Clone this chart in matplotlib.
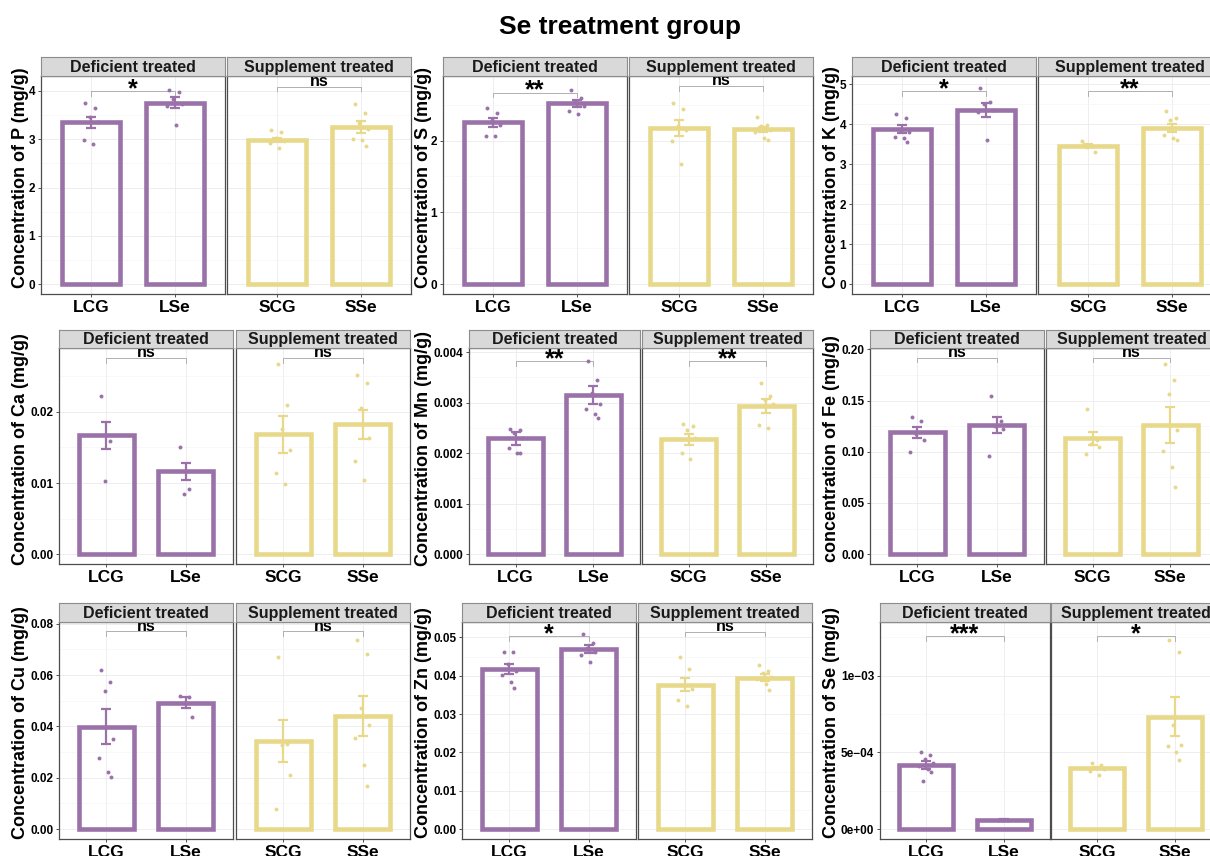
import matplotlib
matplotlib.use("Agg")
import matplotlib.pyplot as plt
import numpy as np

plt.rcParams['font.family'] = ['Liberation Sans', 'DejaVu Sans']

# ---------------- data ----------------
title = "Se treatment group"
facet_titles = ["Deficient treated", "Supplement treated"]
groups_def = ["LCG", "LSe"]
groups_sup = ["SCG", "SSe"]

ylabels = ["Concentration of P (mg/g)", "Concentration of S (mg/g)", "Concentration of K (mg/g)",
           "Concentration of Ca (mg/g)", "Concentration of Mn (mg/g)", "concentration of Fe (mg/g)",
           "Concentration of Cu (mg/g)", "Concentration of Zn (mg/g)", "Concentration of Se (mg/g)"]

# order of groups in each element: LCG, LSe, SCG, SSe
P_mean = [3.35, 3.76, 2.99, 3.25]
P_se = [0.115, 0.115, 0.04, 0.12]
P_pts = [[3.75, 3.64, 3.46, 3.35, 2.99, 2.91], [4.03, 3.97, 3.84, 3.72, 3.68, 3.29],
         [3.20, 3.14, 3.02, 2.97, 2.92, 2.82], [3.72, 3.55, 3.33, 3.22, 3.00, 2.98, 2.86]]
P_sig = ["*", "ns"]
P_sig_y = [3.99, 4.09]

S_mean = [2.255, 2.52, 2.18, 2.16]
S_se = [0.06, 0.05, 0.11, 0.035]
S_pts = [[2.46, 2.39, 2.28, 2.22, 2.07, 2.07], [2.70, 2.60, 2.55, 2.48, 2.41, 2.37],
         [2.52, 2.44, 2.20, 2.15, 1.99, 1.67], [2.33, 2.22, 2.20, 2.15, 2.12, 2.03, 2.01]]
S_sig = ["**", "ns"]
S_sig_y = [2.67, 2.76]

K_mean = [3.88, 4.37, 3.46, 3.91]
K_se = [0.10, 0.175, 0.035, 0.105]
K_pts = [[4.26, 4.16, 3.85, 3.80, 3.69, 3.65, 3.55], [4.90, 4.55, 4.50, 4.35, 4.30, 3.62],
         [3.58, 3.45, 3.42, 3.31], [4.34, 4.16, 4.12, 3.92, 3.73, 3.65, 3.60]]
K_sig = ["*", "**"]
K_sig_y = [4.83, 4.83]

Ca_mean = [0.0167, 0.01167, 0.01688, 0.01823]
Ca_se = [0.00193, 0.00121, 0.0026, 0.00205]
Ca_pts = [[0.0222, 0.0159, 0.0103], [0.0150, 0.0092, 0.0085],
          [0.0267, 0.0210, 0.0176, 0.0146, 0.0114, 0.0098], [0.0252, 0.0240, 0.0205, 0.0164, 0.0131, 0.0104]]
Ca_sig = ["ns", "ns"]
Ca_sig_y = [0.02758, 0.02758]

Mn_mean = [0.00229, 0.003145, 0.00227, 0.00293]
Mn_se = [0.00012, 0.00018, 0.00011, 0.00014]
Mn_pts = [[0.00248, 0.00245, 0.00240, 0.00230, 0.00210, 0.00201, 0.00200],
          [0.00382, 0.00345, 0.00318, 0.00297, 0.00288, 0.00277, 0.00270],
          [0.00257, 0.00253, 0.00245, 0.00230, 0.00200, 0.00189],
          [0.00339, 0.00313, 0.00305, 0.00297, 0.00255, 0.00250]]
Mn_sig = ["**", "**"]
Mn_sig_y = [0.00382, 0.00382]

Fe_mean = [0.1191, 0.1262, 0.1130, 0.1262]
Fe_se = [0.0054, 0.0076, 0.006, 0.0172]
Fe_pts = [[0.1337, 0.1305, 0.117, 0.111, 0.0994], [0.1544, 0.130, 0.125, 0.122, 0.0958],
          [0.1417, 0.111, 0.108, 0.105, 0.0977], [0.186, 0.1696, 0.156, 0.121, 0.1003, 0.0848, 0.0657]]
Fe_sig = ["ns", "ns"]
Fe_sig_y = [0.192, 0.192]

Cu_mean = [0.0399, 0.0492, 0.0343, 0.0441]
Cu_se = [0.0068, 0.0021, 0.0082, 0.0079]
Cu_pts = [[0.0619, 0.0573, 0.0539, 0.0352, 0.0276, 0.0222, 0.0205], [0.0520, 0.0515, 0.0490, 0.0436],
          [0.0669, 0.0332, 0.0328, 0.0210, 0.0079], [0.0738, 0.0683, 0.0470, 0.0407, 0.0354, 0.0251, 0.0169]]
Cu_sig = ["ns", "ns"]
Cu_sig_y = [0.077, 0.077]

Zn_mean = [0.04174, 0.04696, 0.0377, 0.0395]
Zn_se = [0.0013, 0.00095, 0.00165, 0.00085]
Zn_pts = [[0.0463, 0.0463, 0.0430, 0.0412, 0.0402, 0.0383, 0.0367],
          [0.0509, 0.0485, 0.0473, 0.0462, 0.0455, 0.0436],
          [0.0448, 0.0418, 0.0376, 0.0365, 0.0337, 0.0322],
          [0.0427, 0.0411, 0.0408, 0.0397, 0.0392, 0.0379, 0.0363]]
Zn_sig = ["*", "ns"]
Zn_sig_y = [0.0503, 0.0515]

Se_mean = [4.17e-4, 6.1e-5, 3.96e-4, 7.33e-4]
Se_se = [2.6e-5, 2e-6, 7e-6, 1.25e-4]
Se_pts = [[5.0e-4, 4.8e-4, 4.6e-4, 4.3e-4, 4.1e-4, 3.9e-4, 3.7e-4, 3.15e-4], [6.2e-5, 6.0e-5, 5.9e-5],
          [4.3e-4, 4.15e-4, 4.0e-4, 3.9e-4, 3.8e-4, 3.5e-4],
          [1.235e-3, 1.154e-3, 6.8e-4, 5.5e-4, 5.45e-4, 5.0e-4, 4.52e-4]]
Se_sig = ["***", "*"]
Se_sig_y = [1.257e-3, 1.257e-3]

# y-axis ticks / labels per element
P_ticks, P_ticklabels = [0, 1, 2, 3, 4], ["0", "1", "2", "3", "4"]
S_ticks, S_ticklabels = [0, 1, 2], ["0", "1", "2"]
K_ticks, K_ticklabels = [0, 1, 2, 3, 4, 5], ["0", "1", "2", "3", "4", "5"]
Ca_ticks, Ca_ticklabels = [0, 0.01, 0.02], ["0.00", "0.01", "0.02"]
Mn_ticks, Mn_ticklabels = [0, 0.001, 0.002, 0.003, 0.004], ["0.000", "0.001", "0.002", "0.003", "0.004"]
Fe_ticks, Fe_ticklabels = [0, 0.05, 0.10, 0.15, 0.20], ["0.00", "0.05", "0.10", "0.15", "0.20"]
Cu_ticks, Cu_ticklabels = [0, 0.02, 0.04, 0.06, 0.08], ["0.00", "0.02", "0.04", "0.06", "0.08"]
Zn_ticks, Zn_ticklabels = [0, 0.01, 0.02, 0.03, 0.04, 0.05], ["0.00", "0.01", "0.02", "0.03", "0.04", "0.05"]
Se_ticks, Se_ticklabels = [0, 5e-4, 1e-3], ["0e+00", "5e\u221204", "1e\u221203"]

# upper data limit of each y axis (ggplot-style 5% expansion below)
ylim_top = [4.31, 2.90, 5.21, 0.02898, 0.00408, 0.2013, 0.0807, 0.054, 1.35e-3]

# ---------------- style / layout ----------------
PURPLE = '#9A72A9'
YELLOW = '#E8D98A'
BORDER = '#4D4D4D'
W, H = 1210, 856

row_y = [(57, 76, 294), (330, 348, 564), (603, 622, 839)]  # strip top, axes top, axes bottom (px)
panel_x = [(41, 225, 227, 411), (443, 627, 629, 813), (852, 1036, 1038, 1222),
           (59, 233, 236, 410), (469, 640, 642, 813), (870, 1044, 1046, 1217),
           (59, 233, 236, 410), (462, 636, 638, 812), (880, 1050, 1051, 1221)]
ylabel_x = [21, 423, 831]
JIT = [-0.07, 0.05, -0.02, 0.08, -0.09, 0.02, 0.06, -0.04]

elements = [
    (P_mean, P_se, P_pts, P_sig, P_sig_y, P_ticks, P_ticklabels),
    (S_mean, S_se, S_pts, S_sig, S_sig_y, S_ticks, S_ticklabels),
    (K_mean, K_se, K_pts, K_sig, K_sig_y, K_ticks, K_ticklabels),
    (Ca_mean, Ca_se, Ca_pts, Ca_sig, Ca_sig_y, Ca_ticks, Ca_ticklabels),
    (Mn_mean, Mn_se, Mn_pts, Mn_sig, Mn_sig_y, Mn_ticks, Mn_ticklabels),
    (Fe_mean, Fe_se, Fe_pts, Fe_sig, Fe_sig_y, Fe_ticks, Fe_ticklabels),
    (Cu_mean, Cu_se, Cu_pts, Cu_sig, Cu_sig_y, Cu_ticks, Cu_ticklabels),
    (Zn_mean, Zn_se, Zn_pts, Zn_sig, Zn_sig_y, Zn_ticks, Zn_ticklabels),
    (Se_mean, Se_se, Se_pts, Se_sig, Se_sig_y, Se_ticks, Se_ticklabels),
]

fig = plt.figure(figsize=(W / 100, H / 100), dpi=100)


def px_rect(x0, y0, x1, y1):
    return [x0 / W, 1 - y1 / H, (x1 - x0) / W, (y1 - y0) / H]


for k, (means, ses, pts, sig, sig_y, ticks, ticklabels) in enumerate(elements):
    r, c = divmod(k, 3)
    st, at, ab = row_y[r]
    px = panel_x[k]
    top = ylim_top[k]
    bottom = -top * 0.05 / 1.05
    span = top - bottom
    minor = [(a + b) / 2 for a, b in zip(ticks[:-1], ticks[1:])]
    if ticks[-1] + (ticks[1] - ticks[0]) / 2 < top:
        minor.append(ticks[-1] + (ticks[1] - ticks[0]) / 2)
    for f in range(2):
        x0, x1 = px[2 * f], px[2 * f + 1]
        color = PURPLE if f == 0 else YELLOW
        labels = groups_def if f == 0 else groups_sup
        ax = fig.add_axes(px_rect(x0, at, x1, ab))
        ax.set_xlim(0.4, 2.6)
        ax.set_ylim(bottom, top)
        ax.set_axisbelow(True)
        ax.set_yticks(ticks)
        ax.set_yticks(minor, minor=True)
        ax.set_xticks([1, 2])
        ax.grid(True, which='major', color='#EBEBEB', lw=0.6)
        ax.grid(True, which='minor', axis='y', color='#F4F4F4', lw=0.4)
        for sp in ax.spines.values():
            sp.set_color(BORDER)
            sp.set_linewidth(0.9)
        ax.set_xticklabels(labels, fontsize=12.5, fontweight='bold')
        ax.tick_params(axis='x', length=2.2, width=0.6, color='#333333', pad=2)
        ax.tick_params(axis='y', which='minor', length=0)
        if f == 0:
            ax.set_yticklabels(ticklabels, fontsize=8.5, fontweight='bold')
            ax.tick_params(axis='y', length=2.2, width=0.6, color='#333333', pad=2)
        else:
            ax.tick_params(axis='y', which='major', length=0, labelleft=False)

        m = means[2 * f:2 * f + 2]
        e = ses[2 * f:2 * f + 2]
        ax.bar([1, 2], m, width=0.7, fill=False, edgecolor=color, linewidth=3.3, zorder=2)
        ax.errorbar([1, 2], m, yerr=e, fmt='none', ecolor=color, elinewidth=1.6,
                    capsize=3.6, capthick=1.6, zorder=3)
        for g in range(2):
            vals = pts[2 * f + g]
            xs = [g + 1 + JIT[i % len(JIT)] for i in range(len(vals))]
            ax.scatter(xs, vals, s=8, color=color, linewidths=0, zorder=4)

        # significance bracket
        yb = sig_y[f]
        tip = 0.022 * span
        ax.plot([1, 1, 2, 2], [yb - tip, yb, yb, yb - tip], color='#B0B0B0', lw=0.7, zorder=1.5)
        if sig[f] == 'ns':
            ax.annotate('ns', (1.5, yb), xytext=(0, 0.6), textcoords='offset points', ha='center',
                        va='baseline', fontsize=11.5, fontweight='bold', annotation_clip=False, zorder=6)
        else:
            ax.annotate(sig[f], (1.5, yb), xytext=(0, -3.6), textcoords='offset points', ha='center',
                        va='baseline', fontsize=18, fontweight='bold', annotation_clip=False, zorder=6)

        # strip
        sax = fig.add_axes(px_rect(x0, st, x1, at))
        sax.set_facecolor('#D9D9D9')
        sax.set_xticks([])
        sax.set_yticks([])
        for sp in sax.spines.values():
            sp.set_color('#8C8C8C')
            sp.set_linewidth(0.8)
        sax.text(0.5, 0.45, facet_titles[f], ha='center', va='center', fontsize=11.5,
                 fontweight='bold', color='#1A1A1A', transform=sax.transAxes)

    fig.text(ylabel_x[c] / W, 1 - ((st + ab) / 2 + 2) / H, ylabels[k], rotation=90, ha='center',
             va='center', fontsize=13, fontweight='bold')

fig.text(620 / W, 1 - 27 / H, title, ha='center', va='center', fontsize=19, fontweight='bold')

fig.savefig('out.png', dpi=100)
